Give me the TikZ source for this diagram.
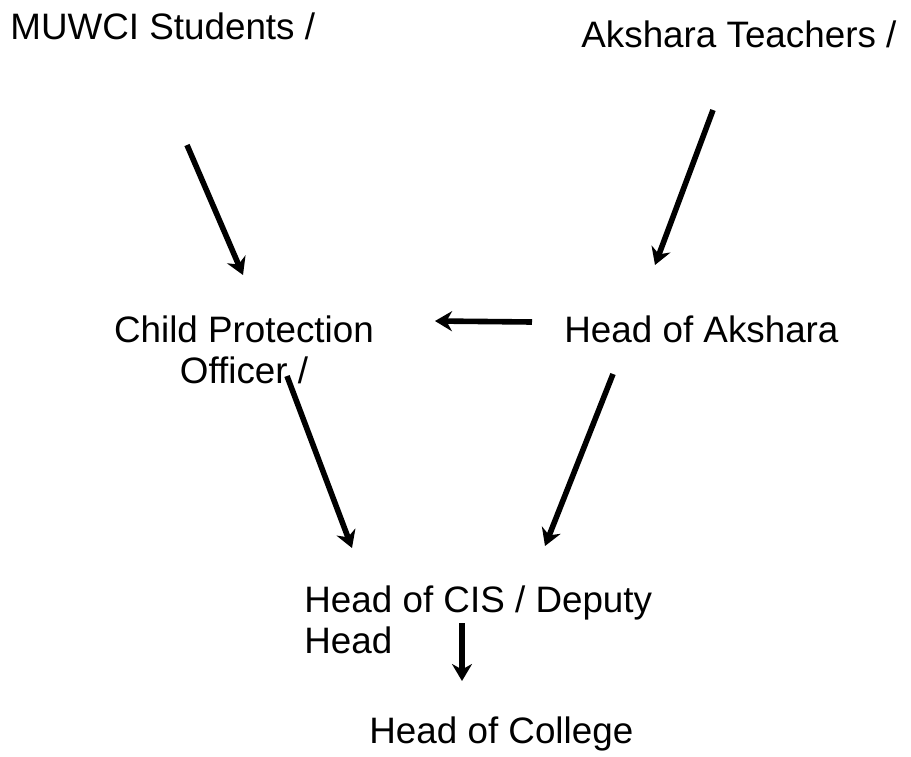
\documentclass[tikz,border=0pt]{standalone}
\usepackage{fontspec}
\setmainfont{Liberation Sans}
\usetikzlibrary{arrows.meta,positioning}

\begin{document}
\begin{tikzpicture}[
  x=0.5pt, y=-0.5pt,
  role/.style={inner sep=0pt, font=\fontsize{18.4pt}{20.5pt}\selectfont},
  arr/.style={-{Stealth[length=8.5pt,width=10pt]}, line width=2.8pt, draw=black}
]
\useasboundingbox (0,0) rectangle (911,756);

%% ── Top row: who reports ─────────────────────────────────────────────────────
\node[role, anchor=base west] (students) at (10,39)  {MUWCI Students /};
\node[role, anchor=base west] (teachers) at (581,47) {Akshara Teachers /};

%% ── Middle row ───────────────────────────────────────────────────────────────
\node[role, anchor=base, align=center] (cpo) at (244,383)
    {Child Protection\\Officer /};
\node[role, anchor=base west] (akshara) at (564,342) {Head of Akshara};

%% ── Bottom rows ──────────────────────────────────────────────────────────────
\node[role, anchor=base west, align=left] (cis) at (304,653)
    {Head of CIS / Deputy\\Head};
\node[role, anchor=base west] (college) at (369,743) {Head of College};

%% ── Arrow ends ───────────────────────────────────────────────────────────────
\coordinate (students_out) at (187,145);
\coordinate (cpo_in)       at (243,275);
\coordinate (teachers_out) at (713,110);
\coordinate (akshara_in)   at (655,265);
\coordinate (akshara_left) at (532,322);
\coordinate (cpo_right)    at (435,321);
\coordinate (cpo_out)      at (287,376);
\coordinate (cis_in_l)     at (352,548);
\coordinate (akshara_out)  at (613,374);
\coordinate (cis_in_r)     at (545,546);
\coordinate (cis_out)      at (462,623);
\coordinate (college_in)   at (462,681);

\draw[arr] (students_out) -- (cpo_in);
\draw[arr] (teachers_out) -- (akshara_in);
\draw[arr] (akshara_left) -- (cpo_right);
\draw[arr] (cpo_out)      -- (cis_in_l);
\draw[arr] (akshara_out)  -- (cis_in_r);
\draw[arr] (cis_out)      -- (college_in);

\end{tikzpicture}
\end{document}
